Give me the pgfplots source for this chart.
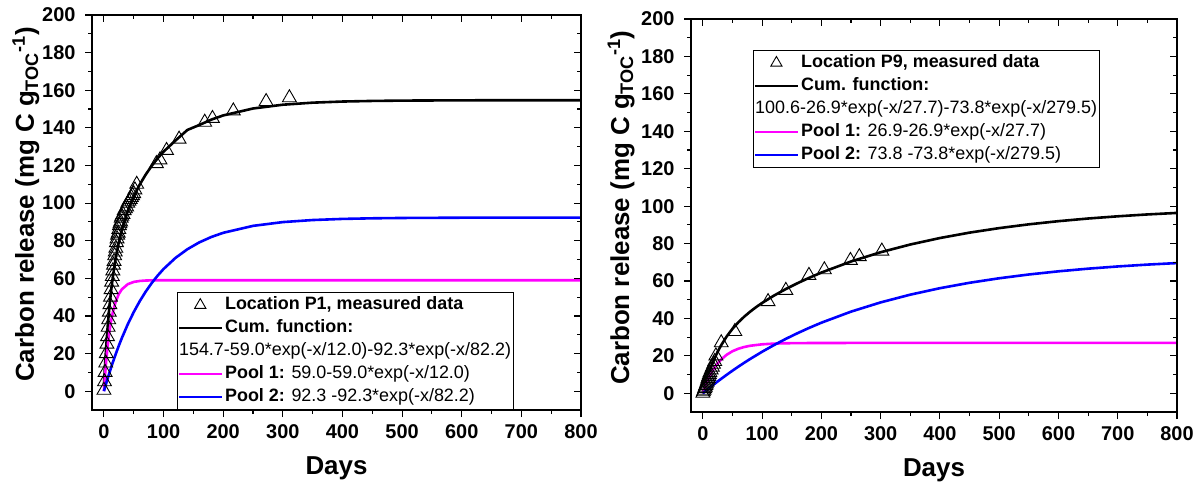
\documentclass[border=0pt]{standalone}
\usepackage{fontspec}
\setmainfont{Liberation Sans}
\usepackage{pgfplots}
\pgfplotsset{compat=1.18}
\definecolor{mag}{RGB}{255,0,255}
\definecolor{blu}{RGB}{0,0,255}

\pgfplotsset{
 lineleg/.style={legend image code/.code={\draw[##1] (0bp,0bp) -- (43bp,0bp);}},
 markleg/.style={legend image code/.code={\draw[##1,mark size=6.5bp] plot coordinates {(21.5bp,0bp)};}},
 frame/.style={
  scale only axis, anchor=south west,
  xmin=-20, xmax=800, ymin=-10, ymax=200,
  xtick={0,100,...,800}, ytick={0,20,...,200},
  minor x tick num=1, minor y tick num=1,
  major tick length=7bp, minor tick length=4bp,
  axis line style={line width=1.3bp},
  every tick/.style={line width=1.1bp, black},
 },
 carbon/.style={
  frame,
  tick align=outside, xtick pos=left, ytick pos=left,
  /pgf/number format/assume math mode=true,
  tick label style={font=\fontsize{20}{24}\selectfont\bfseries},
  xticklabel style={yshift=-4bp},
  yticklabel style={xshift=-6bp},
  xlabel={Days},
  ylabel={Carbon release (mg C g\textsubscript{TOC}\textsuperscript{-1})},
  legend cell align=left,
  legend style={font=\fontsize{18}{21}\selectfont, draw=black, line width=0.8bp,
    inner xsep=0pt, inner ysep=1bp, row sep=0pt,
    nodes={inner xsep=2bp, inner ysep=2bp, text height=14bp, text depth=5bp}},
 },
 xlab/.style={every axis x label/.style={at={(axis description cs:0.5,#1)}, anchor=center, font=\fontsize{26}{30}\selectfont\bfseries}},
 ylab/.style={every axis y label/.style={at={(axis description cs:#1,0.52)}, rotate=90, anchor=center, font=\fontsize{26}{30}\selectfont\bfseries}},
 mirror/.style={
  frame,
  tick align=inside, xtick pos=right, ytick pos=right,
  xticklabels={}, yticklabels={},
 },
 meas/.style={only marks, mark=triangle, mark size=8bp, mark options={line width=0.9bp, draw=black, fill=none}},
 curve/.style={line width=2.6bp},
}

\begin{document}
\begin{tikzpicture}
\path[use as bounding box] (0,0) rectangle (1201bp,486bp);

% ---------------- Left panel (P1) ----------------
\begin{axis}[carbon, at={(92bp,76bp)}, width=489bp, height=395bp,
  xlab=-0.147, ylab=-0.135,
  legend style={at={(0.174,0)}, anchor=south west}]
\addplot[meas, markleg] coordinates {
(0,0.5)(1,5)(2,10)(3,15)(4,20)(5,25)(6,29)(7,34)(8,38)(9,42)(10,46)(11,50)(12,54)
(13,58)(14,61)(15,64)(16,67)(17,69)(18,72)(19,74)(20,76)(21,79)(22,81)(23,83)(24,84)
(25,86)(26,88)(27,89)(28,90)(29,92)(30,93)(32,94)(34,96)(36,97)(38,98)(40,100)(42,101)
(44,102)(46,103)(48,104)(50,105)(52,107)(55,110)(88,121)(94,123)(105,128)(126,134)
(169,143)(182,145)(217,149)(272,154)(311,156)};
\addlegendentry{\textbf{Location P1, measured data}}
\addplot[curve, black, lineleg] coordinates {
(0,3.40)(2,14.68)(4,24.51)(6,33.12)(8,40.67)(10,47.33)(12,53.23)(15,60.90)(20,71.18)
(25,79.25)(30,85.78)(40,95.85)(50,103.55)(60,109.82)(70,115.14)(80,119.74)(90,123.79)
(100,127.35)(120,133.26)(140,138.89)(160,141.52)(180,144.37)(200,146.60)(250,150.29)
(300,152.30)(350,153.39)(400,153.99)(450,154.31)(500,154.49)(600,154.64)(700,154.68)(800,154.69)};
\addlegendentry{\textbf{Cum. function:}}
\addlegendimage{empty legend}
\addlegendentry{\hspace*{-46bp}154.7-59.0*exp(-x/12.0)-92.3*exp(-x/82.2)}
\addplot[curve, mag, lineleg] coordinates {
(0,0)(2,9.06)(4,16.73)(6,23.22)(8,28.71)(10,33.36)(12,37.29)(15,42.10)(20,47.85)
(25,51.65)(30,54.16)(40,56.89)(50,58.09)(60,58.60)(70,58.83)(80,58.92)(100,58.99)
(200,59.0)(400,59.0)(600,59.0)(800,59.0)};
\addlegendentry{\textbf{Pool 1:} 59.0-59.0*exp(-x/12.0)}
\addplot[curve, blu, lineleg] coordinates {
(0,0)(2,2.22)(4,4.38)(6,6.50)(8,8.56)(10,10.57)(12,12.54)(15,15.40)(20,19.93)(25,24.20)
(30,28.22)(40,35.56)(50,42.06)(60,47.82)(70,52.91)(80,57.42)(90,61.42)(100,64.96)
(120,70.86)(140,75.49)(160,79.12)(180,81.97)(200,84.20)(250,87.89)(300,89.90)
(350,90.99)(400,91.59)(450,91.91)(500,92.09)(600,92.24)(700,92.28)(800,92.29)};
\addlegendentry{\textbf{Pool 2:} 92.3 -92.3*exp(-x/82.2)}
\end{axis}
\begin{axis}[mirror, at={(92bp,76bp)}, width=489bp, height=395bp]
\end{axis}

% ---------------- Right panel (P9) ----------------
\begin{axis}[carbon, at={(691bp,74bp)}, width=486bp, height=393bp,
  xlab=-0.148, ylab=-0.144,
  legend style={at={(0.128,0.921)}, anchor=north west}]
\addplot[meas, markleg] coordinates {
(0,0)(1,0.8)(2,1.6)(3,2.5)(4,3.3)(5,4.2)(6,5)(7,6)(8,7)(9,8)(10,9)(11,10)(12,11)
(14,12.5)(16,14)(18,15.5)(20,17)(22,20)(31,27)(54,33)(110,49)(140,55)(179,63)
(205,66)(249,71)(264,73)(302,76)};
\addlegendentry{\textbf{Location P9, measured data}}
\addplot[curve, black, lineleg] coordinates {
(0,-0.1)(5,5.65)(10,10.64)(15,15.01)(20,18.83)(25,22.20)(30,25.20)(40,30.29)(50,34.47)
(60,37.98)(70,41.00)(80,43.67)(90,46.08)(100,48.27)(120,52.21)(140,55.71)(160,58.88)
(180,61.79)(200,64.50)(250,70.43)(300,75.37)(350,79.50)(400,82.96)(450,85.85)
(500,88.26)(550,90.28)(600,91.97)(650,93.39)(700,94.57)(750,95.56)(800,96.38)};
\addlegendentry{\textbf{Cum. function:}}
\addlegendimage{empty legend}
\addlegendentry{\hspace*{-46bp}100.6-26.9*exp(-x/27.7)-73.8*exp(-x/279.5)}
\addplot[curve, mag, lineleg] coordinates {
(0,0)(5,4.44)(10,8.15)(15,11.25)(20,13.83)(25,15.99)(30,17.79)(40,20.55)(50,22.48)
(60,23.82)(70,24.75)(80,25.40)(100,26.17)(120,26.55)(140,26.73)(160,26.82)(200,26.88)
(250,26.90)(400,26.9)(600,26.9)(800,26.9)};
\addlegendentry{\textbf{Pool 1:} 26.9-26.9*exp(-x/27.7)}
\addplot[curve, blu, lineleg] coordinates {
(0,0)(5,1.31)(10,2.59)(15,3.86)(20,5.10)(25,6.31)(30,7.51)(40,9.84)(50,12.09)(60,14.26)
(70,16.35)(80,18.37)(100,22.20)(120,25.76)(140,29.08)(160,32.16)(180,35.04)(200,37.72)
(250,43.63)(300,48.57)(350,52.70)(400,56.16)(450,59.05)(500,61.46)(550,63.48)
(600,65.17)(650,66.59)(700,67.77)(750,68.76)(800,69.58)};
\addlegendentry{\textbf{Pool 2:} 73.8 -73.8*exp(-x/279.5)}
\end{axis}
\begin{axis}[mirror, at={(691bp,74bp)}, width=486bp, height=393bp]
\end{axis}
\end{tikzpicture}
\end{document}
